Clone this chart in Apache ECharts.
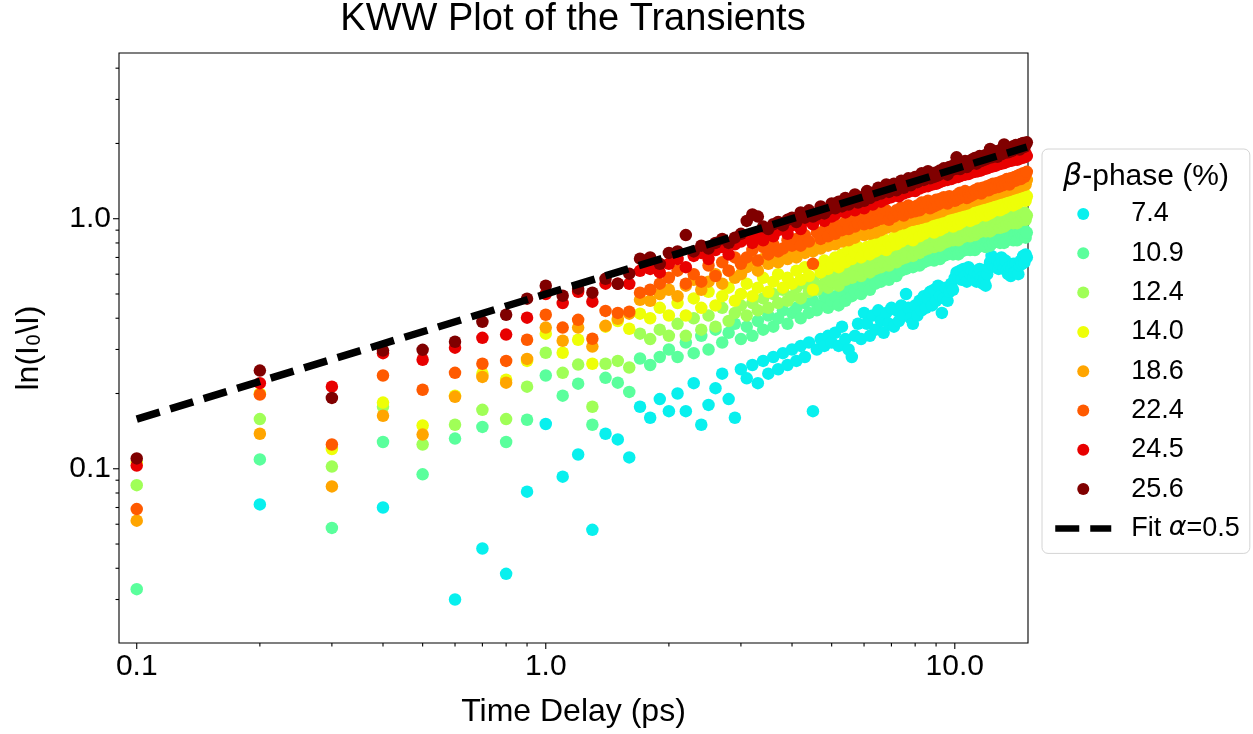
<!DOCTYPE html>
<html>
<head>
<meta charset="utf-8">
<script src="https://cdn.jsdelivr.net/npm/echarts@6/dist/echarts.min.js"></script>
<style>
html,body{margin:0;padding:0;background:#fff;}
#chart{width:1253px;height:734px;}
</style>
</head>
<body>
<div id="chart"></div>
<script>
// ---------------- data ----------------
const timeDelay = [
0.1,0.2,0.3,0.4,0.5,0.6,0.7,0.8,0.9,1.0,
1.1,1.2,1.3,1.4,1.5,1.6,1.7,1.8,1.9,2.0,
2.1,2.2,2.3,2.4,2.5,2.6,2.7,2.8,2.9,3.0,
3.1,3.2,3.3,3.4,3.5,3.6,3.7,3.8,3.9,4.0,
4.1,4.2,4.3,4.4,4.5,4.6,4.7,4.8,4.9,5.0,
5.1,5.2,5.3,5.4,5.5,5.6,5.7,5.8,5.9,6.0,
6.1,6.2,6.3,6.4,6.5,6.6,6.7,6.8,6.9,7.0,
7.1,7.2,7.3,7.4,7.5,7.6,7.7,7.8,7.9,8.0,
8.1,8.2,8.3,8.4,8.5,8.6,8.7,8.8,8.9,9.0,
9.1,9.2,9.3,9.4,9.5,9.6,9.7,9.8,9.9,10.0,
10.1,10.2,10.3,10.4,10.5,10.6,10.7,10.8,10.9,11.0,
11.1,11.2,11.3,11.4,11.5,11.6,11.7,11.8,11.9,12.0,
12.1,12.2,12.3,12.4,12.5,12.6,12.7,12.8,12.9,13.0,
13.1,13.2,13.3,13.4,13.5,13.6,13.7,13.8,13.9,14.0,
14.1,14.2,14.3,14.4,14.5,14.6,14.7,14.8,14.9,15.0
];

const seriesNames = ['7.4','10.9','12.4','14.0','18.6','22.4','24.5','25.6'];
const seriesColors = ['#08f0ee','#5aff9c','#a0ff57','#eeff08','#ffa500','#ff5a00','#e80000','#800000'];

const beta74 = [
null,0.072,null,0.070,null,0.030,0.048,0.038,0.081,0.151,
0.093,0.114,0.057,0.138,0.131,0.111,0.177,0.160,0.190,0.170,
0.20,0.17,0.22,0.15,0.18,0.21,0.24,0.19,0.16,0.25,
0.23,0.26,0.22,0.27,0.24,0.28,0.25,0.29,0.26,0.30,
0.27,0.31,0.28,0.32,0.17,0.30,0.33,0.31,0.34,0.32,
0.35,0.31,0.37,0.33,0.30,0.28,0.34,0.38,0.33,0.42,
0.38,0.34,0.41,0.36,0.43,0.39,0.35,0.42,0.38,0.44,
0.37,0.43,0.39,0.45,0.41,0.50,0.44,0.40,0.38,0.45,
0.41,0.47,0.43,0.49,0.44,0.48,0.51,0.45,0.52,0.47,
0.54,0.49,0.42,0.48,0.53,0.47,0.51,0.55,0.52,0.58,
0.61,0.58,0.62,0.57,0.63,0.59,0.56,0.64,0.60,0.62,
0.58,0.61,0.56,0.60,0.63,0.58,0.55,0.57,0.54,0.60,
0.64,0.67,0.71,0.65,0.69,0.64,0.68,0.63,0.66,0.70,
0.67,0.63,0.68,0.62,0.60,0.64,0.59,0.63,0.66,0.61,
0.66,0.62,0.60,0.65,0.68,0.66,0.71,0.67,0.72,0.70
];
const beta109 = [
0.033,0.109,0.058,0.128,0.095,0.132,0.147,0.128,0.157,0.236,
0.196,0.219,0.150,0.231,0.221,0.203,0.276,0.26,0.28,0.30,
0.28,0.32,0.29,0.34,0.30,0.36,0.32,0.35,0.38,0.33,
0.37,0.34,0.39,0.36,0.41,0.37,0.40,0.43,0.38,0.42,
0.44,0.40,0.46,0.42,0.47,0.43,0.45,0.49,0.44,0.47,
0.49,0.45,0.51,0.47,0.53,0.49,0.51,0.55,0.50,0.54,
0.57,0.52,0.59,0.55,0.61,0.56,0.59,0.63,0.57,0.61,
0.64,0.59,0.66,0.62,0.68,0.63,0.66,0.70,0.64,0.67,
0.69,0.65,0.71,0.67,0.73,0.68,0.70,0.74,0.68,0.72,
0.73,0.69,0.75,0.71,0.77,0.72,0.74,0.78,0.72,0.76,
0.77,0.72,0.78,0.74,0.80,0.75,0.77,0.81,0.75,0.79,
0.80,0.75,0.81,0.77,0.82,0.78,0.80,0.84,0.77,0.81,
0.82,0.78,0.84,0.80,0.85,0.81,0.83,0.86,0.80,0.84,
0.85,0.80,0.86,0.82,0.87,0.83,0.85,0.88,0.82,0.86,
0.87,0.82,0.88,0.84,0.89,0.85,0.87,0.90,0.84,0.88
];
const beta124 = [
0.086,0.158,0.102,0.177,0.125,0.150,0.172,0.158,0.213,0.291,
0.242,0.261,0.177,0.263,0.270,0.254,0.347,0.33,0.36,0.34,
0.38,0.34,0.40,0.36,0.41,0.37,0.44,0.39,0.42,0.45,
0.41,0.46,0.43,0.48,0.44,0.50,0.46,0.52,0.47,0.49,
0.53,0.48,0.55,0.51,0.57,0.52,0.54,0.59,0.53,0.56,
0.59,0.54,0.61,0.57,0.63,0.58,0.60,0.65,0.59,0.62,
0.66,0.61,0.68,0.63,0.70,0.64,0.67,0.72,0.65,0.69,
0.72,0.67,0.74,0.69,0.76,0.70,0.73,0.78,0.71,0.75,
0.78,0.73,0.80,0.75,0.82,0.76,0.79,0.84,0.77,0.81,
0.83,0.78,0.85,0.80,0.87,0.81,0.84,0.89,0.82,0.86,
0.87,0.82,0.89,0.84,0.91,0.85,0.88,0.92,0.85,0.89,
0.91,0.86,0.93,0.88,0.95,0.89,0.92,0.96,0.89,0.93,
0.94,0.89,0.96,0.91,0.98,0.92,0.95,0.99,0.92,0.96,
0.97,0.93,0.99,0.95,1.01,0.96,0.98,1.03,0.96,1.00,
1.01,0.96,1.03,0.98,1.05,0.99,1.02,1.06,0.99,1.03
];
const beta140 = [
0.106,0.200,0.120,0.184,0.149,0.196,0.240,0.227,0.270,0.347,
0.291,0.328,0.263,0.370,0.390,0.363,0.417,0.40,0.44,0.41,
0.46,0.41,0.48,0.44,0.51,0.45,0.49,0.53,0.47,0.50,
0.55,0.49,0.53,0.58,0.51,0.56,0.60,0.53,0.58,0.55,
0.62,0.57,0.64,0.59,0.52,0.65,0.61,0.68,0.63,0.66,
0.70,0.64,0.72,0.67,0.75,0.69,0.73,0.77,0.70,0.74,
0.77,0.72,0.79,0.74,0.81,0.76,0.83,0.75,0.80,0.78,
0.84,0.79,0.86,0.81,0.88,0.83,0.86,0.90,0.82,0.87,
0.90,0.85,0.92,0.87,0.94,0.89,0.91,0.96,0.88,0.93,
0.95,0.90,0.97,0.92,0.99,0.94,0.96,1.01,0.93,0.98,
1.00,0.95,1.03,0.97,1.05,0.99,1.02,1.07,0.98,1.03,
1.05,1.00,1.08,1.02,1.10,1.04,1.07,1.12,1.03,1.08,
1.10,1.05,1.13,1.07,1.15,1.09,1.12,1.17,1.08,1.13,
1.15,1.10,1.18,1.12,1.20,1.14,1.17,1.22,1.13,1.18,
1.20,1.15,1.23,1.17,1.25,1.19,1.22,1.26,1.18,1.23
];
const beta186 = [
0.062,0.138,0.085,0.163,0.137,0.194,0.233,0.221,0.275,0.367,
0.325,0.367,0.308,0.373,0.398,0.417,0.474,0.47,0.50,0.52,
0.49,0.54,0.57,0.52,0.56,0.60,0.55,0.62,0.58,0.60,
0.64,0.68,0.62,0.69,0.66,0.71,0.67,0.74,0.69,0.73,
0.70,0.77,0.73,0.79,0.74,0.80,0.76,0.83,0.78,0.81,
0.79,0.85,0.81,0.87,0.82,0.89,0.84,0.88,0.91,0.86,
0.90,0.87,0.93,0.88,0.95,0.90,0.96,0.92,0.94,0.98,
0.93,0.99,0.95,1.01,0.96,1.02,0.98,1.04,0.99,1.03,
1.00,1.05,1.01,1.07,1.02,1.09,1.04,1.08,1.05,1.11,
1.06,1.12,1.07,1.13,1.09,1.15,1.10,1.14,1.11,1.16,
1.12,1.18,1.13,1.19,1.14,1.20,1.15,1.22,1.17,1.21,
1.18,1.24,1.19,1.25,1.20,1.26,1.21,1.27,1.22,1.26,
1.23,1.29,1.24,1.30,1.25,1.31,1.26,1.32,1.27,1.33,
1.28,1.34,1.29,1.35,1.30,1.36,1.31,1.37,1.32,1.38,
1.33,1.39,1.34,1.40,1.35,1.41,1.36,1.42,1.37,1.43
];
const beta224 = [
0.069,0.198,0.125,0.236,0.207,0.242,0.263,0.270,0.328,0.413,
0.367,0.394,0.331,0.428,0.420,0.425,0.506,0.52,0.55,0.58,
0.62,0.55,0.60,0.56,0.65,0.59,0.67,0.62,0.70,0.66,
0.70,0.75,0.68,0.77,0.72,0.79,0.74,0.76,0.82,0.78,
0.83,0.78,0.86,0.81,0.66,0.88,0.83,0.90,0.85,0.92,
0.87,0.94,0.90,0.97,0.91,0.99,0.93,0.96,1.01,0.95,
1.00,0.96,1.04,0.98,1.06,1.00,1.03,1.08,0.99,1.05,
1.02,1.08,1.05,1.11,1.03,1.09,1.13,1.06,1.10,1.07,
1.13,1.08,1.16,1.11,1.14,1.18,1.10,1.15,1.12,1.19,
1.14,1.20,1.16,1.22,1.17,1.15,1.23,1.19,1.21,1.18,
1.24,1.20,1.27,1.22,1.25,1.29,1.21,1.26,1.23,1.28,
1.25,1.30,1.27,1.32,1.28,1.26,1.33,1.29,1.31,1.35,
1.30,1.36,1.32,1.38,1.33,1.35,1.39,1.34,1.37,1.41,
1.36,1.42,1.38,1.44,1.40,1.37,1.45,1.41,1.43,1.47,
1.42,1.48,1.45,1.50,1.44,1.49,1.52,1.47,1.51,1.54
];
const beta245 = [
0.103,0.220,0.213,0.290,0.273,0.305,0.334,0.344,0.402,0.500,
0.460,0.510,0.466,0.550,0.550,0.549,0.619,0.63,0.61,0.66,
0.69,0.64,0.71,0.73,0.69,0.75,0.77,0.72,0.79,0.81,
0.84,0.80,0.86,0.82,0.88,0.85,0.90,0.93,0.87,0.94,
0.96,0.91,0.98,1.00,0.95,1.01,1.03,0.98,1.05,1.02,
1.04,1.09,1.12,1.06,1.11,1.14,1.08,1.15,1.12,1.10,
1.18,1.20,1.14,1.21,1.23,1.17,1.24,1.20,1.26,1.22,
1.27,1.29,1.23,1.30,1.26,1.32,1.28,1.34,1.30,1.29,
1.36,1.32,1.38,1.34,1.40,1.35,1.41,1.37,1.43,1.38,
1.44,1.40,1.46,1.42,1.47,1.43,1.49,1.44,1.50,1.46,
1.51,1.47,1.53,1.49,1.54,1.50,1.56,1.51,1.57,1.53,
1.58,1.54,1.59,1.55,1.61,1.56,1.62,1.58,1.63,1.59,
1.65,1.61,1.66,1.62,1.68,1.63,1.69,1.65,1.70,1.66,
1.71,1.67,1.73,1.69,1.74,1.70,1.75,1.71,1.77,1.73,
1.76,1.72,1.78,1.74,1.79,1.75,1.81,1.76,1.82,1.78
];
const beta256 = [
0.110,0.247,0.192,0.297,0.299,0.322,0.387,0.413,0.479,0.540,
0.492,0.525,0.506,0.575,0.549,0.603,0.692,0.70,0.66,0.73,
0.74,0.86,0.74,0.78,0.76,0.80,0.83,0.80,0.84,0.87,
0.98,1.04,1.02,0.93,0.91,0.95,0.97,0.94,0.99,1.01,
0.97,1.06,1.01,1.08,1.02,1.04,1.12,1.05,1.09,1.15,
1.10,1.17,1.12,1.21,1.14,1.19,1.25,1.16,1.22,1.18,
1.29,1.21,1.27,1.24,1.33,1.26,1.30,1.37,1.28,1.31,
1.38,1.30,1.35,1.42,1.33,1.39,1.45,1.36,1.41,1.47,
1.40,1.46,1.52,1.43,1.49,1.55,1.45,1.51,1.47,1.53,
1.49,1.56,1.52,1.59,1.54,1.50,1.61,1.56,1.63,1.58,
1.76,1.62,1.58,1.67,1.63,1.70,1.61,1.68,1.65,1.72,
1.69,1.75,1.66,1.73,1.78,1.70,1.76,1.72,1.80,1.74,
1.79,1.90,1.76,1.84,1.80,1.86,1.77,1.83,1.88,1.81,
1.86,1.98,1.93,1.84,1.89,1.85,1.92,1.87,1.95,1.90,
1.97,1.91,1.95,1.89,1.99,1.93,2.01,1.94,1.98,2.02
];

const fitName = 'Fit α=0.5';
const fitX = [0.1, 15.0];
const fitY = [0.158, 1.936];

const xMajorTicks = [0.1, 1, 10];
const xMinorTicks = [0.2,0.3,0.4,0.5,0.6,0.7,0.8,0.9,2,3,4,5,6,7,8,9];
const yMajorTicks = [0.1, 1];
const yMinorTicks = [0.03,0.04,0.05,0.06,0.07,0.08,0.09,0.2,0.3,0.4,0.5,0.6,0.7,0.8,0.9,2,3,4];

const X_MIN = 0.0905, X_MAX = 15.1, Y_MIN = 0.0201, Y_MAX = 4.6;

// ---------------- chart ----------------
const seriesValues = [beta74, beta109, beta124, beta140, beta186, beta224, beta245, beta256];
const FONT = 'Liberation Sans, Arial, sans-serif';

function decadeLabel(v) {
  const e = Math.log10(v);
  return Math.abs(e - Math.round(e)) < 1e-6 ? Number(v).toFixed(1) : '';
}

function tickSeries(values, axis, len) {
  return {
    type: 'custom',
    coordinateSystem: 'cartesian2d',
    silent: true,
    clip: false,
    z: 30,
    data: values.map(v => axis === 'x' ? [v, Y_MIN] : [X_MIN, v]),
    renderItem: function (params, api) {
      const p = api.coord([api.value(0), api.value(1)]);
      const shape = axis === 'x'
        ? { x1: p[0], y1: p[1], x2: p[0], y2: p[1] + len }
        : { x1: p[0], y1: p[1], x2: p[0] - len, y2: p[1] };
      return { type: 'line', shape: shape, style: { stroke: '#000', lineWidth: 1.1 } };
    }
  };
}

const scatterSeries = seriesNames.map((name, k) => ({
  type: 'scatter',
  name: name,
  data: timeDelay.map((t, i) => [t, seriesValues[k][i]]).filter(d => d[1] !== null),
  symbol: 'circle',
  symbolSize: 12.5,
  itemStyle: { color: seriesColors[k], opacity: 1 },
  emphasis: { disabled: true },
  z: 2
}));

const fitSeries = {
  type: 'line',
  name: fitName,
  data: fitX.map((x, i) => [x, fitY[i]]),
  symbol: 'circle',
  showSymbol: false,
  itemStyle: { color: '#000' },
  lineStyle: { color: '#000', width: 7.5, type: [24, 11], cap: 'butt' },
  emphasis: { disabled: true },
  z: 20
};

const legendData = seriesNames.map(n => ({ name: n }))
  .concat([{ name: fitName, itemStyle: { opacity: 0 } }]);

const chart = echarts.init(document.getElementById('chart'), null, { renderer: 'canvas' });
chart.setOption({
  animation: false,
  backgroundColor: '#fff',
  textStyle: { fontFamily: FONT, color: '#000' },
  title: {
    text: 'KWW Plot of the Transients',
    left: 573, top: 1, textAlign: 'center', padding: 0,
    textStyle: { fontSize: 38, fontWeight: 'normal', color: '#000', fontFamily: FONT }
  },
  grid: {
    left: 119, right: 225, top: 53, bottom: 91,
    show: true, borderColor: '#000', borderWidth: 1.1, backgroundColor: 'transparent',
    containLabel: false, outerBoundsMode: 'none'
  },
  xAxis: {
    type: 'log', logBase: 10, min: X_MIN, max: X_MAX,
    axisLine: { show: false }, axisTick: { show: false },
    splitLine: { show: false }, minorTick: { show: false },
    axisLabel: { formatter: decadeLabel, fontSize: 30, color: '#000', margin: 9, fontFamily: FONT },
    name: 'Time Delay (ps)', nameLocation: 'middle', nameGap: 53,
    nameTextStyle: { fontSize: 32, color: '#000', fontFamily: FONT }
  },
  yAxis: {
    type: 'log', logBase: 10, min: Y_MIN, max: Y_MAX,
    axisLine: { show: false }, axisTick: { show: false },
    splitLine: { show: false }, minorTick: { show: false },
    axisLabel: { formatter: decadeLabel, fontSize: 30, color: '#000', margin: 8, fontFamily: FONT },
    name: 'ln(I{sub|0}\\I)', nameLocation: 'middle', nameGap: 74,
    nameTextStyle: {
      fontSize: 32, color: '#000', fontFamily: FONT,
      rich: { sub: { fontSize: 19, verticalAlign: 'bottom', fontFamily: 'DejaVu Sans', color: '#000' } }
    }
  },
  legend: {
    data: legendData,
    orient: 'vertical',
    left: 1042, top: 149,
    padding: [50, 10, 10, 10],
    backgroundColor: '#fff',
    borderColor: '#d4d4d4', borderWidth: 1, borderRadius: 6,
    itemWidth: 56, itemHeight: 12, itemGap: 9.3,
    selectedMode: false,
    lineStyle: { width: 6.5 },
    formatter: function (name) { return name === fitName ? 'Fit {it|α}=0.5' : name; },
    textStyle: {
      fontSize: 27, color: '#000', fontFamily: FONT, lineHeight: 30, padding: [0, 0, 0, 15],
      rich: { it: { fontSize: 27, fontStyle: 'italic', fontFamily: 'DejaVu Sans', color: '#000', lineHeight: 30 } }
    }
  },
  graphic: [{
    type: 'text', x: 1146, y: 177, z: 100,
    style: {
      text: '{b|β}-phase (%)', align: 'center', verticalAlign: 'middle',
      fontSize: 30, fontFamily: FONT, fill: '#000',
      rich: { b: { fontSize: 30, fontStyle: 'italic', fontFamily: 'DejaVu Sans', fill: '#000' } }
    }
  }],
  series: scatterSeries.concat([
    fitSeries,
    tickSeries(xMajorTicks, 'x', 6),
    tickSeries(xMinorTicks, 'x', 3.5),
    tickSeries(yMajorTicks, 'y', 6),
    tickSeries(yMinorTicks, 'y', 3.5)
  ])
});
</script>
</body>
</html>
